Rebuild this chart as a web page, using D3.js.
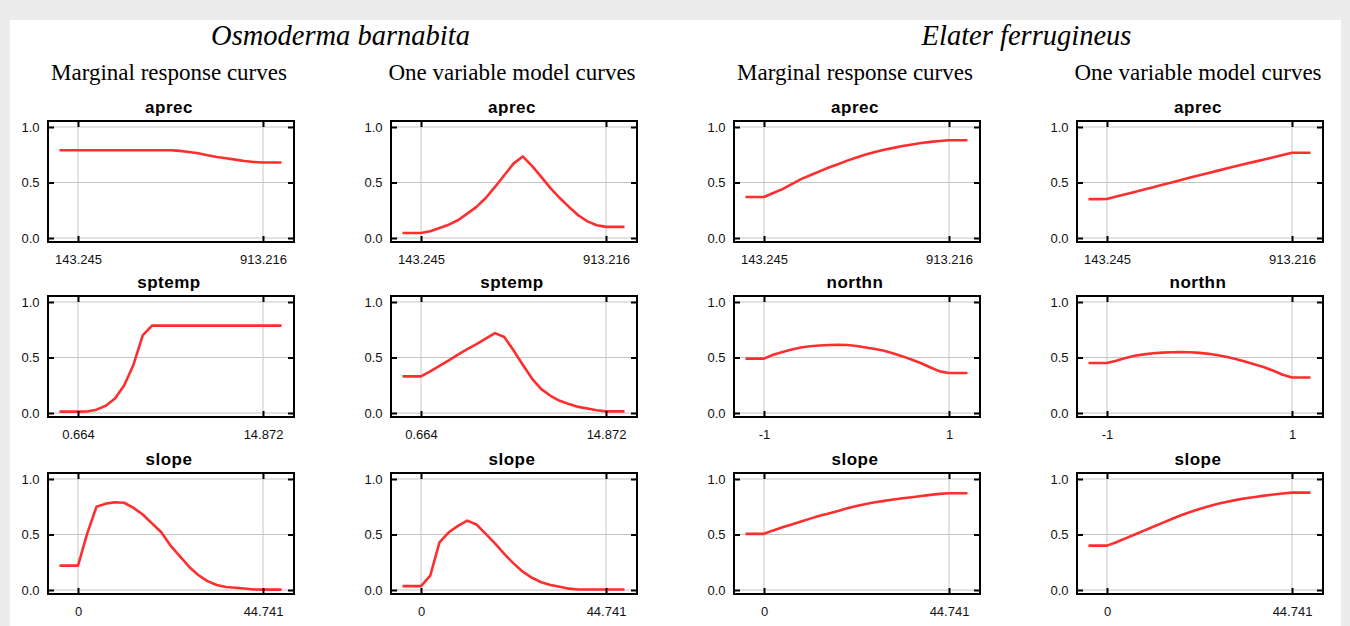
<!DOCTYPE html>
<html>
<head>
<meta charset="utf-8">
<script src="https://cdn.jsdelivr.net/npm/d3@7/dist/d3.min.js"></script>
<style>
  body { margin: 0; background: #ececec; }
  svg { display: block; }
  .tick text { font-family: "Liberation Sans", Arial, sans-serif; font-size: 13px; fill: #111; }
</style>
</head>
<body>
<svg id="chart" width="1350" height="626"></svg>
<script>
// species (one per pair of columns) and the two kinds of curves
var species = ["Osmoderma barnabita", "Elater ferrugineus"];
var curveKinds = ["Marginal response curves", "One variable model curves"];

// variable ranges = the two x ticks of each panel, and their labels
var aprecRange = [143.245, 913.216];
var sptempRange = [0.664, 14.872];
var northnRange = [-1, 1];
var slopeRange = [0, 44.741];
var aprecTickLabels = ["143.245", "913.216"];
var sptempTickLabels = ["0.664", "14.872"];
var northnTickLabels = ["-1", "1"];
var slopeTickLabels = ["0", "44.741"];

var yTicks = [0, 0.5, 1.0];

var aprecX = [66.2, 104.7, 143.2, 181.7, 220.2, 258.7, 297.2, 335.7, 374.2, 412.7, 451.2, 489.7, 528.2,
  566.7, 605.2, 643.7, 682.2, 720.7, 759.2, 797.7, 836.2, 874.7, 913.2, 951.7, 990.2];
var sptempX = [-0.757, -0.046, 0.664, 1.374, 2.085, 2.795, 3.506, 4.216, 4.926, 5.637, 6.347, 7.058, 7.768,
  8.478, 9.189, 9.899, 10.610, 11.320, 12.030, 12.741, 13.451, 14.162, 14.872, 15.582, 16.293];
var northnX = [-1.2, -1.1, -1.0, -0.9, -0.8, -0.7, -0.6, -0.5, -0.4, -0.3, -0.2, -0.1, 0,
  0.1, 0.2, 0.3, 0.4, 0.5, 0.6, 0.7, 0.8, 0.9, 1.0, 1.1, 1.2];
var slopeX = [-4.474, -2.237, 0, 2.237, 4.474, 6.711, 8.948, 11.185, 13.422, 15.659, 17.896, 20.133, 22.371,
  24.608, 26.845, 29.082, 31.319, 33.556, 35.793, 38.030, 40.267, 42.504, 44.741, 46.978, 49.215];

// Osmoderma barnabita
var osmMargAprec = [.79, .79, .79, .79, .79, .79, .79, .79, .79, .79, .79, .79, .79,
  .785, .775, .763, .745, .73, .718, .706, .694, .685, .68, .68, .68];
var osmOneAprec = [.045, .045, .045, .06, .09, .12, .16, .22, .28, .36, .46, .565, .67,
  .735, .65, .55, .45, .36, .28, .205, .15, .115, .1, .1, .1];
var osmMargSptemp = [.012, .012, .012, .013, .03, .065, .13, .25, .435, .70, .787, .787, .787,
  .787, .787, .787, .787, .787, .787, .787, .787, .787, .787, .787, .787];
var osmOneSptemp = [.33, .33, .33, .375, .425, .475, .525, .575, .62, .67, .72, .685, .565,
  .435, .31, .215, .155, .11, .08, .055, .04, .025, .015, .015, .015];
var osmMargSlope = [.22, .22, .22, .51, .75, .778, .79, .786, .74, .68, .6, .52, .40,
  .305, .21, .135, .08, .045, .027, .02, .013, .005, .003, .003, .003];
var osmOneSlope = [.035, .035, .035, .13, .43, .52, .578, .625, .59, .505, .42, .325, .24,
  .165, .11, .07, .045, .03, .012, .005, .005, .005, .005, .005, .005];

// Elater ferrugineus
var elaMargAprec = [.37, .37, .37, .405, .44, .485, .53, .565, .60, .635, .665, .697, .725,
  .752, .775, .795, .812, .828, .843, .856, .866, .874, .88, .88, .88];
var elaOneAprec = [.35, .35, .352, .373, .394, .415, .437, .458, .48, .5, .522, .544, .566,
  .586, .607, .628, .648, .668, .688, .708, .728, .748, .768, .768, .768];
var elaMargNorthn = [.49, .49, .49, .525, .55, .572, .59, .601, .608, .613, .615, .612, .603,
  .59, .577, .56, .537, .51, .48, .448, .41, .375, .36, .36, .36];
var elaOneNorthn = [.45, .45, .45, .47, .495, .515, .528, .538, .544, .547, .548, .547, .542,
  .533, .52, .505, .485, .462, .438, .412, .38, .345, .32, .32, .32];
var elaMargSlope = [.506, .506, .506, .537, .565, .59, .617, .643, .668, .69, .712, .737, .757,
  .775, .79, .803, .815, .826, .836, .847, .857, .866, .871, .871, .871];
var elaOneSlope = [.40, .40, .40, .43, .465, .5, .535, .57, .605, .64, .673, .703, .73,
  .755, .777, .795, .812, .826, .838, .85, .86, .87, .877, .877, .877];

var variables = {
  aprec: { range: aprecRange, labels: aprecTickLabels, xs: aprecX },
  sptemp: { range: sptempRange, labels: sptempTickLabels, xs: sptempX },
  northn: { range: northnRange, labels: northnTickLabels, xs: northnX },
  slope: { range: slopeRange, labels: slopeTickLabels, xs: slopeX }
};

// one row per variable row, one column per species/curve kind
var panelVars = [
  ["aprec", "aprec", "aprec", "aprec"],
  ["sptemp", "sptemp", "northn", "northn"],
  ["slope", "slope", "slope", "slope"]
];
var panelValues = [
  [osmMargAprec, osmOneAprec, elaMargAprec, elaOneAprec],
  [osmMargSptemp, osmOneSptemp, elaMargNorthn, elaOneNorthn],
  [osmMargSlope, osmOneSlope, elaMargSlope, elaOneSlope]
];

// layout
var colLeft = [48, 391, 734, 1077];
var rowTop = [121, 296, 473];
var frameW = 246, frameH = 121;
var serif = '"Liberation Serif", "Times New Roman", serif';
var sans = '"Liberation Sans", Arial, sans-serif';

var svg = d3.select("#chart");

// white sheet on the grey page
svg.append("rect")
  .attr("x", 10).attr("y", 20)
  .attr("width", 1331).attr("height", 606)
  .attr("fill", "#fff");

// species names
species.forEach(function (name, i) {
  var cx = (colLeft[2 * i] + colLeft[2 * i + 1] + frameW) / 2;
  svg.append("text")
    .attr("x", cx - 2).attr("y", 45)
    .attr("text-anchor", "middle")
    .style("font-family", serif)
    .style("font-style", "italic")
    .style("font-size", "28.5px")
    .text(name);
});

// column headings
colLeft.forEach(function (left, c) {
  svg.append("text")
    .attr("x", left + frameW / 2 - 2).attr("y", 80)
    .attr("text-anchor", "middle")
    .style("font-family", serif)
    .style("font-size", "23px")
    .text(curveKinds[c % 2]);
});

function drawPanel(r, c) {
  var v = variables[panelVars[r][c]];
  var values = panelValues[r][c];
  var left = colLeft[c], top = rowTop[r];

  var x = d3.scaleLinear().domain(v.range).range([left + 30, left + frameW - 31]);
  var y = d3.scaleLinear().domain([0, 1]).range([top + frameH - 4, top + 6]);

  var g = svg.append("g").attr("class", "panel");

  // title
  g.append("text")
    .attr("x", left + frameW / 2 - 2).attr("y", top - 8.5)
    .attr("text-anchor", "middle")
    .style("font-family", sans)
    .style("font-weight", "bold")
    .style("font-size", "17px")
    .style("letter-spacing", "0.5px")
    .text(panelVars[r][c]);

  // grid
  g.selectAll(".vgrid").data(v.range).enter().append("line")
    .attr("x1", function (d) { return x(d); }).attr("x2", function (d) { return x(d); })
    .attr("y1", top).attr("y2", top + frameH)
    .attr("stroke", "#c6c6c6").attr("stroke-width", 1);
  g.selectAll(".hgrid").data(yTicks).enter().append("line")
    .attr("x1", left).attr("x2", left + frameW)
    .attr("y1", function (d) { return y(d); }).attr("y2", function (d) { return y(d); })
    .attr("stroke", "#c6c6c6").attr("stroke-width", 1);

  // curve
  var pts = v.xs.map(function (xv, i) { return [xv, values[i]]; });
  g.append("path")
    .attr("d", d3.line()
      .x(function (d) { return x(d[0]); })
      .y(function (d) { return y(d[1]); })(pts))
    .attr("fill", "none")
    .attr("stroke", "#ff2e2e")
    .attr("stroke-width", 2.6)
    .attr("stroke-linejoin", "round");

  // frame
  g.append("rect")
    .attr("x", left).attr("y", top)
    .attr("width", frameW).attr("height", frameH)
    .attr("fill", "none").attr("stroke", "#000").attr("stroke-width", 2);

  // axes with inward ticks on all four sides
  var bottom = g.append("g").attr("transform", "translate(0," + (top + frameH) + ")")
    .call(d3.axisBottom(x).tickValues(v.range).tickSize(-6).tickPadding(12.5)
      .tickFormat(function (d, i) { return v.labels[i]; }));
  var topAx = g.append("g").attr("transform", "translate(0," + top + ")")
    .call(d3.axisTop(x).tickValues(v.range).tickSize(-6).tickFormat(""));
  var leftAx = g.append("g").attr("transform", "translate(" + left + ",0)")
    .call(d3.axisLeft(y).tickValues(yTicks).tickSize(-6).tickPadding(8.5)
      .tickFormat(d3.format(".1f")));
  var rightAx = g.append("g").attr("transform", "translate(" + (left + frameW) + ",0)")
    .call(d3.axisRight(y).tickValues(yTicks).tickSize(-6).tickFormat(""));

  [bottom, topAx, leftAx, rightAx].forEach(function (a) {
    a.select(".domain").remove();
    a.selectAll(".tick line").attr("stroke", "#000").attr("stroke-width", 2);
  });
}

for (var r = 0; r < 3; r++) {
  for (var c = 0; c < 4; c++) {
    drawPanel(r, c);
  }
}
</script>
</body>
</html>
